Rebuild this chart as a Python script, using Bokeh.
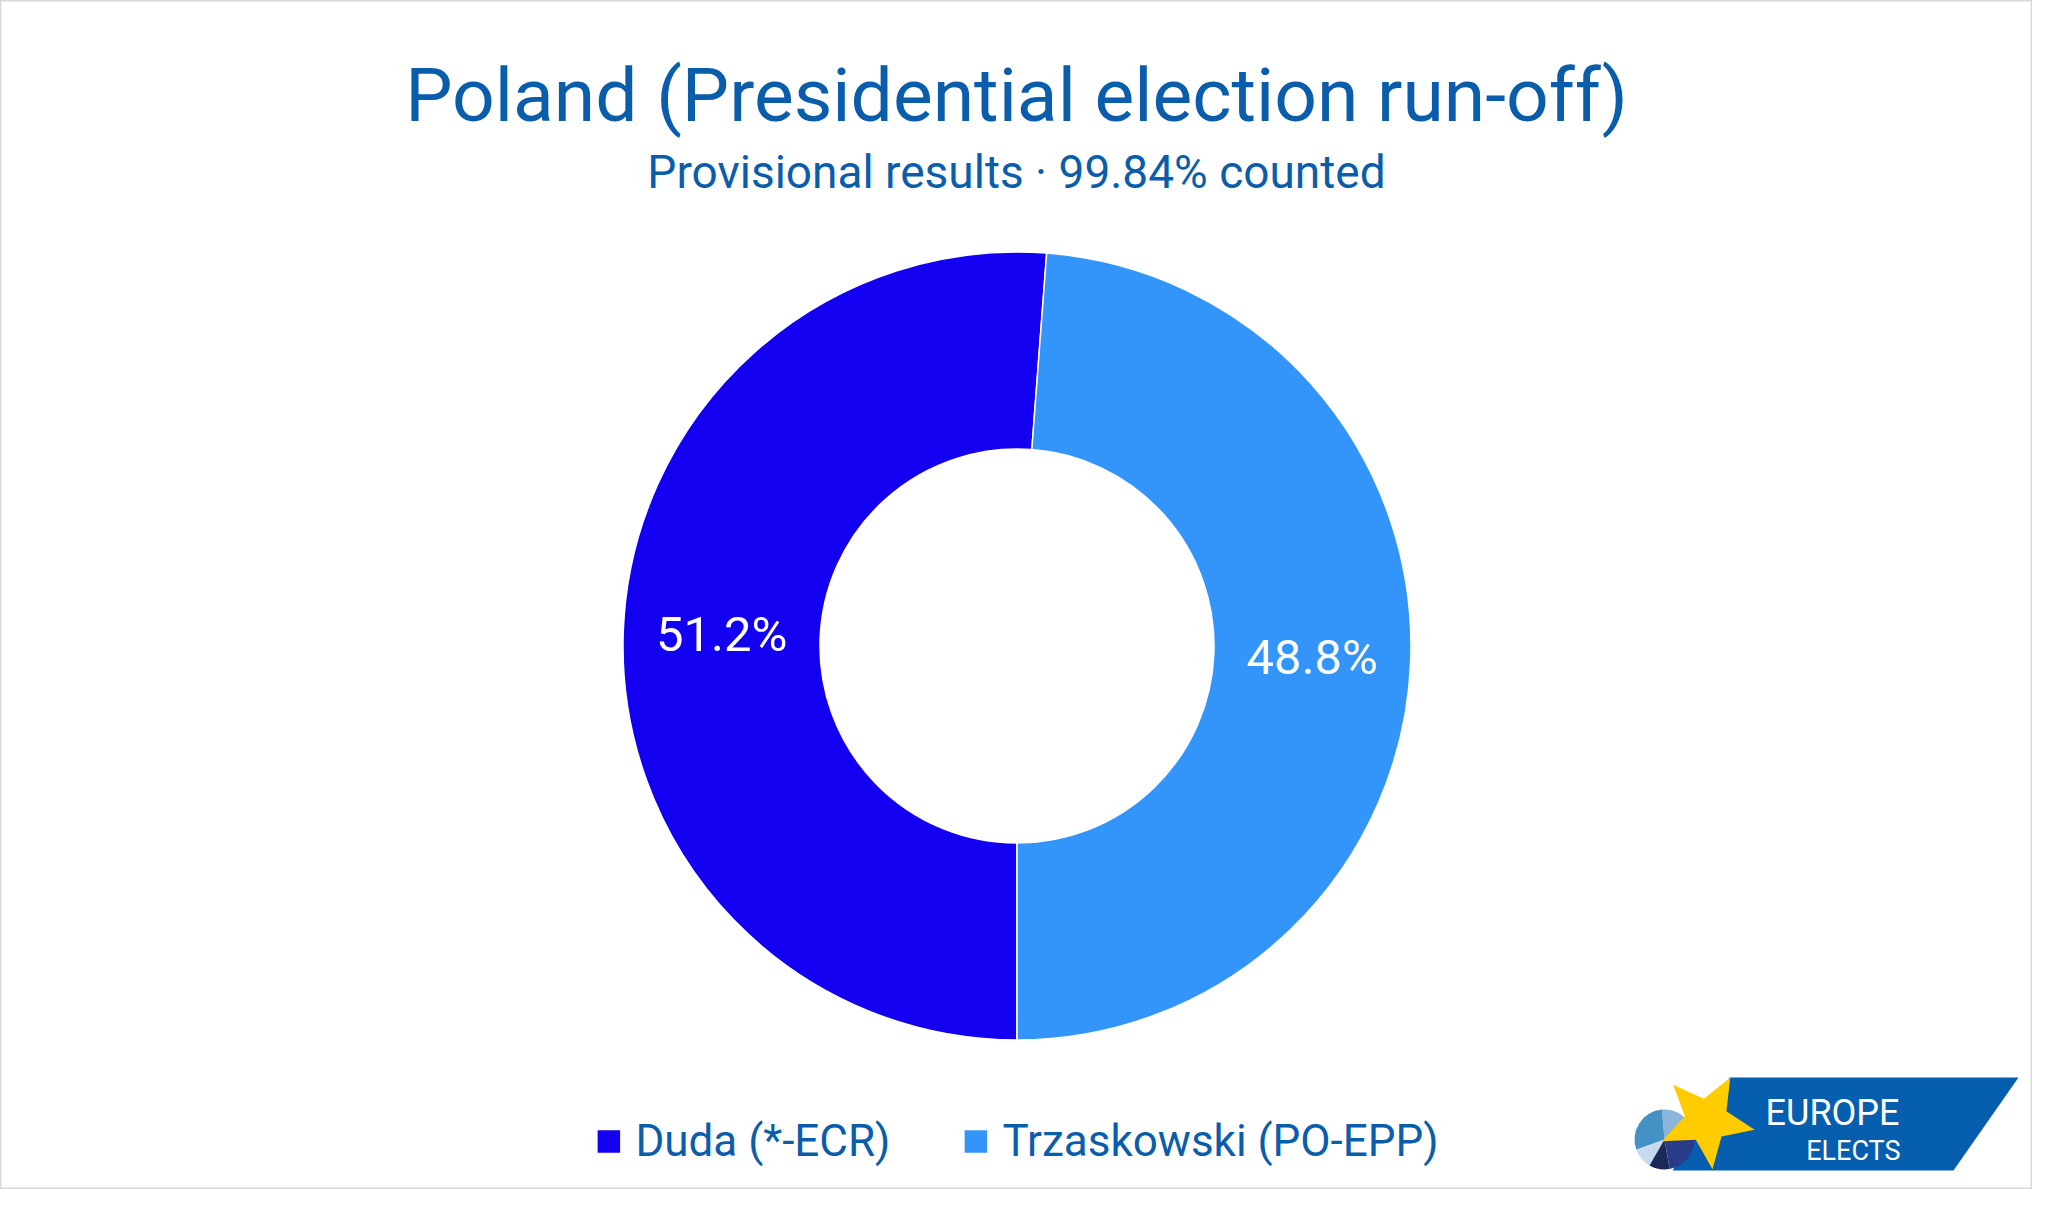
import numpy as np
from bokeh.plotting import figure
from bokeh.models import Range1d, Label, Legend, LegendItem, ColumnDataSource
from bokeh.core.properties import value
from bokeh.embed import file_html
from bokeh.resources import INLINE

# ---- data ----
candidates = ["Duda (*-ECR)", "Trzaskowski (PO-EPP)"]
shares = [51.2, 48.8]
colors = ["#1400F0", "#3395FA"]
share_labels = ["51.2%", "48.8%"]

title_text = "Poland (Presidential election run-off)"
subtitle_text = "Provisional results · 99.84% counted"

FONT = "Roboto"
BLUE_TXT = "#0A5DAB"

W, H = 2032, 1189


def px(X):
    return X - 8


def py(Y):
    return 1197 - Y


p = figure(width=W, height=H, x_range=Range1d(0, W), y_range=Range1d(0, H),
           x_axis_type=None, y_axis_type=None, toolbar_location=None,
           output_backend="svg", min_border=0)
p.grid.visible = False
p.outline_line_color = "#D9D9D9"
p.outline_line_width = 2
p.background_fill_color = "white"
p.border_fill_color = "white"

# ---- donut ----
cx, cy = px(1024.5), py(653.5)
r_out, r_in = 394, 197
frac = np.array(shares) / np.sum(shares)
before = np.concatenate([[0], np.cumsum(frac)[:-1]])
start = -np.pi / 2 - 2 * np.pi * before
end = start - 2 * np.pi * frac
mid = (start + end) / 2
rm = (r_out + r_in) / 2

src = ColumnDataSource(dict(
    x=[cx] * len(shares), y=[cy] * len(shares), start=start, end=end,
    color=colors, name=candidates,
    lx=cx + rm * np.cos(mid), ly=cy + rm * np.sin(mid), lab=share_labels,
))
wedges = p.annular_wedge(x="x", y="y", inner_radius=r_in, outer_radius=r_out,
                         start_angle="start", end_angle="end", direction="clock",
                         fill_color="color", line_color="white", line_width=1.5,
                         source=src)
p.text(x="lx", y="ly", text="lab", source=src, text_color="white",
       text_font=value(FONT), text_font_size="49px", text_align="center",
       text_baseline="middle")

# ---- titles ----
p.add_layout(Label(x=px(1024), y=py(102), text=title_text, text_align="center",
                   text_baseline="alphabetic", text_color=BLUE_TXT,
                   text_font=FONT, text_font_size="75px"))
p.add_layout(Label(x=px(1024), y=py(179), text=subtitle_text, text_align="center",
                   text_baseline="alphabetic", text_color=BLUE_TXT,
                   text_font=FONT, text_font_size="46px"))

# ---- legend ----
items = [LegendItem(label=c, renderers=[wedges], index=i) for i, c in enumerate(candidates)]
legend = Legend(items=items, orientation="horizontal", location="bottom_center",
                glyph_width=30, glyph_height=30, label_standoff=12, spacing=70,
                padding=0, margin=22, border_line_color=None,
                background_fill_alpha=0, label_text_font=FONT,
                label_text_font_size="44px", label_text_color=BLUE_TXT,
                label_height=30)
p.add_layout(legend)

# ---- Europe Elects logo ----
p.patch(x=[px(1737), px(2026), px(1961), px(1680)],
        y=[py(1085), py(1085), py(1178), py(1178)],
        fill_color="#055EAE", line_color=None)

pcx, pcy, pr = px(1672), py(1147), 30
pie_cols = ["#8AB4DA", "#4591C6", "#C6DBF0", "#1C2858", "#2A3B8A"]
pie_bounds = [20, 95, 200, 240, 280, 380]
for i, c in enumerate(pie_cols):
    p.wedge(x=pcx, y=pcy, radius=pr, start_angle=np.deg2rad(pie_bounds[i]),
            end_angle=np.deg2rad(pie_bounds[i + 1]), fill_color=c, line_color=None)

scx, scy, sr_out, sr_in = px(1714), py(1128), 49, 22
ang = np.deg2rad(61 + np.arange(10) * 36)
rr = np.where(np.arange(10) % 2 == 0, sr_out, sr_in)
p.patch(x=scx + rr * np.cos(ang), y=scy + rr * np.sin(ang),
        fill_color="#FFCC00", line_color=None)

p.add_layout(Label(x=px(1907), y=py(1120), text="EUROPE", text_align="right",
                   text_baseline="alphabetic", text_color="white",
                   text_font=FONT, text_font_size="36px"))
p.add_layout(Label(x=px(1908), y=py(1158), text="ELECTS", text_align="right",
                   text_baseline="alphabetic", text_color="white",
                   text_font=FONT, text_font_size="27px"))

open("out.html", "w").write(file_html(p, INLINE))
